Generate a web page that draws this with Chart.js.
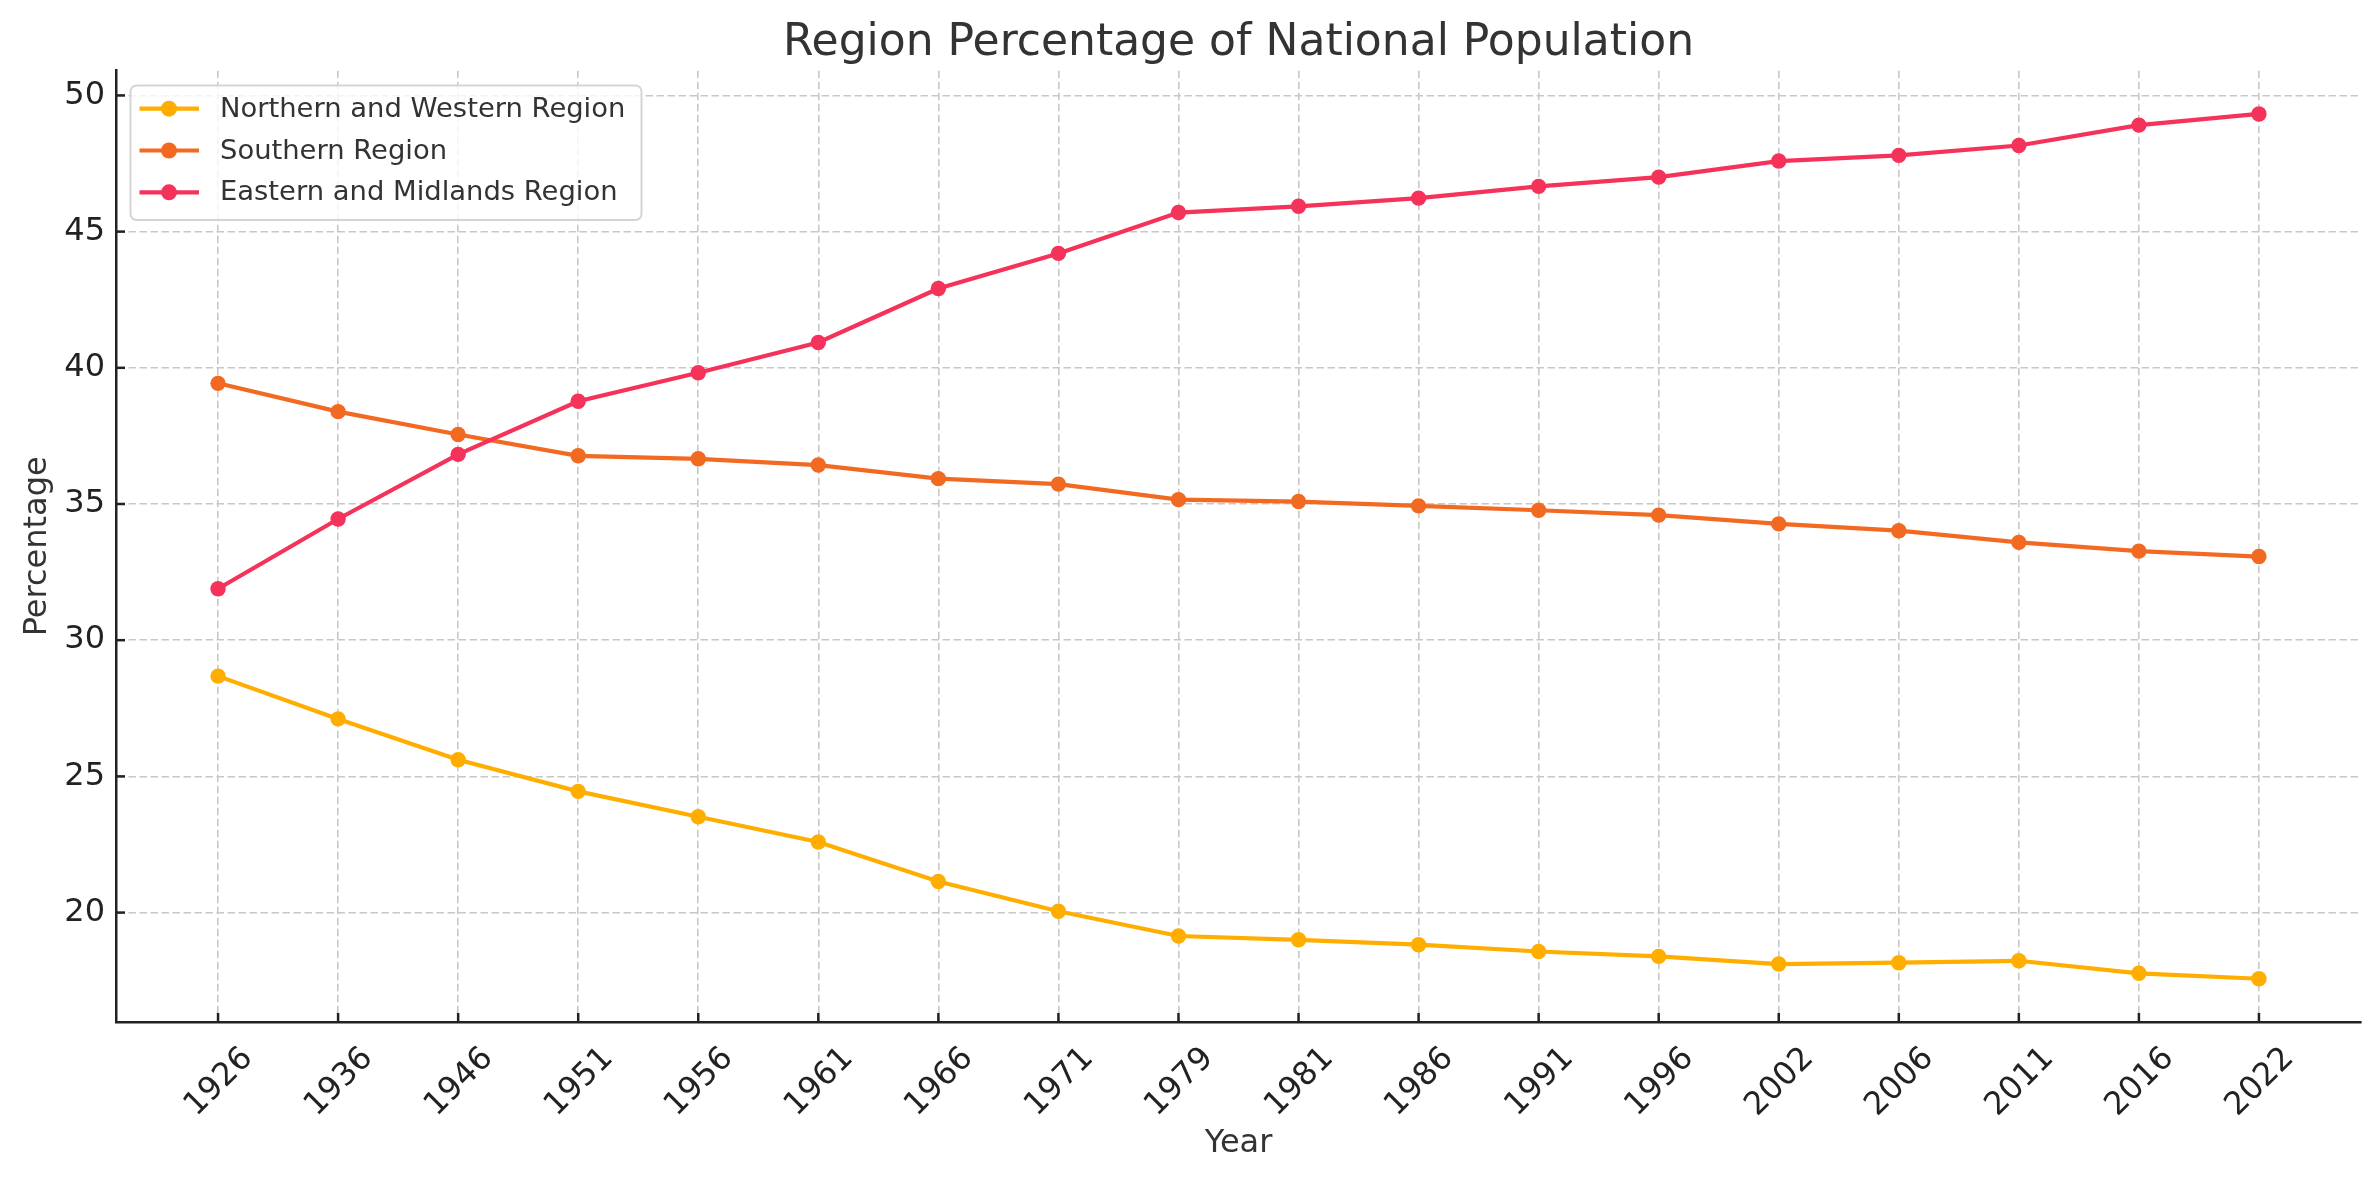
<!DOCTYPE html>
<html>
<head>
<meta charset="utf-8">
<script src="https://cdn.jsdelivr.net/npm/chart.js@4.4.1/dist/chart.umd.min.js"></script>
<style>
html, body { margin: 0; padding: 0; background: #ffffff; }
#wrap { width: 2379px; height: 1180px; }
</style>
</head>
<body>
<div id="wrap"><canvas id="c" width="2379" height="1180"></canvas></div>
<script>
// ---- data ----
const years = ['1926','1936','1946','1951','1956','1961','1966','1971','1979','1981','1986','1991','1996','2002','2006','2011','2016','2022'];
const northernWestern = [28.68, 27.11, 25.61, 24.45, 23.52, 22.59, 21.14, 20.05, 19.14, 19.00, 18.82, 18.57, 18.39, 18.11, 18.16, 18.23, 17.77, 17.57];
const southern        = [39.43, 38.39, 37.55, 36.77, 36.66, 36.43, 35.93, 35.73, 35.16, 35.09, 34.93, 34.77, 34.59, 34.27, 34.02, 33.59, 33.27, 33.07];
const easternMidlands = [31.89, 34.45, 36.82, 38.77, 39.82, 40.93, 42.91, 44.20, 45.70, 45.93, 46.23, 46.66, 47.00, 47.59, 47.80, 48.16, 48.91, 49.32];
const seriesNames = ['Northern and Western Region', 'Southern Region', 'Eastern and Midlands Region'];
const yTickValues = [20, 25, 30, 35, 40, 45, 50];
const chartTitle = 'Region Percentage of National Population';
const xTitle = 'Year';
const yTitle = 'Percentage';

// ---- styles ----
const seriesColors = ['#FFAE00', '#F26A22', '#F5325A'];
const FONT = 'DejaVu Sans';
const AXIS_COLOR = '#222222';
const GRID_COLOR = '#c8c8c8';

const allSeries = [northernWestern, southern, easternMidlands];
const allVals = allSeries.flat();
const vMin = Math.min(...allVals), vMax = Math.max(...allVals);
const vPad = (vMax - vMin) * 0.05;
const xPad = (years.length - 1) * 0.05;

const datasets = allSeries.map((vals, k) => ({
  label: seriesNames[k],
  data: vals.map((v, i) => ({ x: i, y: v })),
  borderColor: seriesColors[k],
  backgroundColor: seriesColors[k],
  pointBackgroundColor: seriesColors[k],
  pointBorderColor: seriesColors[k],
  pointBorderWidth: 0,
  pointRadius: 7.7,
  borderWidth: 4.2,
  tension: 0,
  order: allSeries.length - k
}));

const innerTicks = {
  id: 'innerTicks',
  afterDraw(chart) {
    const ctx = chart.ctx;
    const xs = chart.scales.x, ys = chart.scales.y;
    const a = chart.chartArea;
    ctx.save();
    ctx.strokeStyle = AXIS_COLOR;
    ctx.lineWidth = 2.5;
    xs.ticks.forEach(t => {
      const px = xs.getPixelForValue(t.value);
      ctx.beginPath(); ctx.moveTo(px, a.bottom); ctx.lineTo(px, a.bottom - 9); ctx.stroke();
    });
    ys.ticks.forEach(t => {
      const py = ys.getPixelForValue(t.value);
      ctx.beginPath(); ctx.moveTo(a.left, py); ctx.lineTo(a.left + 9, py); ctx.stroke();
    });
    ctx.restore();
  }
};

const boxLegend = {
  id: 'boxLegend',
  afterDraw(chart) {
    const ctx = chart.ctx;
    const a = chart.chartArea;
    const bx = a.left + 14.5, by = a.top + 14.8, bw = 511, bh = 134.5, r = 6;
    ctx.save();
    ctx.beginPath();
    ctx.moveTo(bx + r, by);
    ctx.lineTo(bx + bw - r, by); ctx.arcTo(bx + bw, by, bx + bw, by + r, r);
    ctx.lineTo(bx + bw, by + bh - r); ctx.arcTo(bx + bw, by + bh, bx + bw - r, by + bh, r);
    ctx.lineTo(bx + r, by + bh); ctx.arcTo(bx, by + bh, bx, by + bh - r, r);
    ctx.lineTo(bx, by + r); ctx.arcTo(bx, by, bx + r, by, r);
    ctx.closePath();
    ctx.fillStyle = 'rgba(255,255,255,0.8)';
    ctx.fill();
    ctx.strokeStyle = '#d5d5d5';
    ctx.lineWidth = 2;
    ctx.stroke();
    chart.data.datasets.forEach((ds, k) => {
      const cy = by + 23.2 + k * 41.8;
      ctx.strokeStyle = ds.borderColor;
      ctx.lineWidth = 4.2;
      ctx.beginPath(); ctx.moveTo(bx + 9, cy); ctx.lineTo(bx + 68.5, cy); ctx.stroke();
      ctx.fillStyle = ds.borderColor;
      ctx.beginPath(); ctx.arc(bx + 38.5, cy, 8, 0, Math.PI * 2); ctx.fill();
      ctx.fillStyle = '#333333';
      ctx.font = '27.4px "' + FONT + '"';
      ctx.textBaseline = 'middle';
      ctx.textAlign = 'left';
      ctx.fillText(ds.label, bx + 89.5, cy + 1);
    });
    ctx.restore();
  }
};

new Chart(document.getElementById('c'), {
  type: 'line',
  data: { datasets },
  plugins: [innerTicks, boxLegend],
  options: {
    responsive: false,
    animation: false,
    events: [],
    layout: { padding: { left: 0, right: 18, top: 0, bottom: 0 } },
    plugins: {
      legend: { display: false },
      tooltip: { enabled: false },
      title: {
        display: true,
        fullSize: false,
        text: chartTitle,
        color: '#333333',
        font: { family: FONT, size: 44, weight: 'normal', lineHeight: 1.2 },
        padding: { top: 17.6, bottom: 0.3 }
      }
    },
    scales: {
      x: {
        type: 'linear',
        min: -xPad,
        max: years.length - 1 + xPad,
        afterBuildTicks: (scale) => { scale.ticks = years.map((_, i) => ({ value: i })); },
        afterFit: (scale) => { scale.height = 158; },
        ticks: {
          autoSkip: false,
          minRotation: 45,
          maxRotation: 45,
          padding: 18,
          labelOffset: 30,
          color: AXIS_COLOR,
          font: { family: FONT, size: 32 },
          callback: (v) => years[v]
        },
        grid: { color: GRID_COLOR, lineWidth: 1.6, drawTicks: false, tickLength: 0 },
        border: { display: true, color: AXIS_COLOR, width: 2.5, dash: [7.5, 3.5] },
        title: {
          display: true, text: xTitle, color: '#333333',
          font: { family: FONT, size: 32, lineHeight: 1.2 },
          padding: { top: 0, bottom: 16.8 }
        }
      },
      y: {
        type: 'linear',
        min: vMin - vPad,
        max: vMax + vPad,
        afterBuildTicks: (scale) => { scale.ticks = yTickValues.map(v => ({ value: v })); },
        afterFit: (scale) => { scale.width = 116; },
        ticks: {
          padding: 11,
          color: AXIS_COLOR,
          font: { family: FONT, size: 32 },
          callback: (v) => String(v)
        },
        grid: { color: GRID_COLOR, lineWidth: 1.6, drawTicks: false, tickLength: 0 },
        border: { display: true, color: AXIS_COLOR, width: 2.5, dash: [7.5, 3.5] },
        title: {
          display: true, text: yTitle, color: '#333333',
          font: { family: FONT, size: 32, lineHeight: 1.2 },
          padding: { top: 18, bottom: 0 }
        }
      }
    }
  }
});
</script>
</body>
</html>
